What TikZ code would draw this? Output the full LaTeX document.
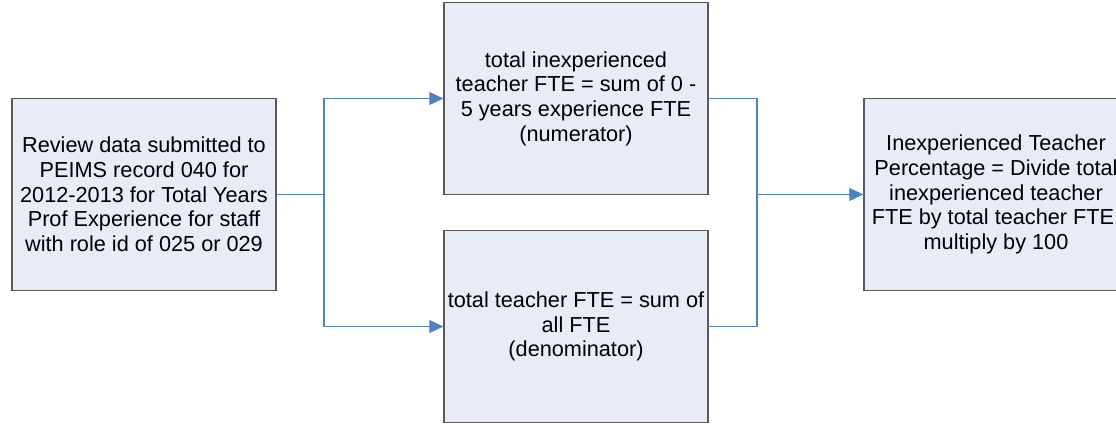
\documentclass[tikz,border=0pt]{standalone}
\usepackage{fontspec}
\setmainfont{Liberation Sans}
\usepackage{xcolor}
\usetikzlibrary{arrows.meta, positioning}

\definecolor{boxfill}{RGB}{231,236,247}
\definecolor{boxline}{RGB}{90,90,90}
\definecolor{flowblue}{RGB}{79,129,189}

\begin{document}
\begin{tikzpicture}[
    % Styles
    stepbox/.style={rectangle, draw=boxline, line width=0.8pt, fill=boxfill, minimum width=5.28cm, minimum height=3.84cm, inner sep=0pt, align=center, font=\fontsize{12.35}{14.06}\selectfont},
    link/.style={draw=flowblue, line width=0.6pt},
    arrow/.style={link, -{Triangle[length=0.28cm, width=0.26cm]}}
]

% Frame of the picture
\useasboundingbox (0,0) rectangle (22.32,8.46);
\clip (0,0) rectangle (22.32,8.46);

% Review step
\node[stepbox] (review) at (2.88,4.57) {
    Review data submitted to\\
    PEIMS record 040 for\\
    2012-2013 for Total Years\\
    Prof Experience for staff\\
    with role id of 025 or 029
};

% Numerator and denominator
\node[stepbox] (numerator) at (11.52,6.49) {
    total inexperienced\\
    teacher FTE = sum of 0 -\\
    5 years experience FTE\\
    (numerator)
};
\node[stepbox] (denominator) at (11.52,1.93) {
    total teacher FTE = sum of\\
    all FTE\\
    (denominator)
};

% Result
\node[stepbox] (percentage) at (19.92,4.57) {
    Inexperienced Teacher\\
    Percentage = Divide total\\
    inexperienced teacher\\
    FTE by total teacher FTE;\\
    multiply by 100
};

% Branch and merge points
\coordinate (split) at (6.48,4.57);
\coordinate (merge) at (15.14,4.57);

% Connectors
\draw[link] (review.east) -- (split);
\draw[arrow] (split) |- (numerator.west);
\draw[arrow] (split) |- (denominator.west);
\draw[link] (numerator.east) -| (merge);
\draw[link] (denominator.east) -| (merge);
\draw[arrow] (merge) -- (percentage.west);

\end{tikzpicture}
\end{document}
